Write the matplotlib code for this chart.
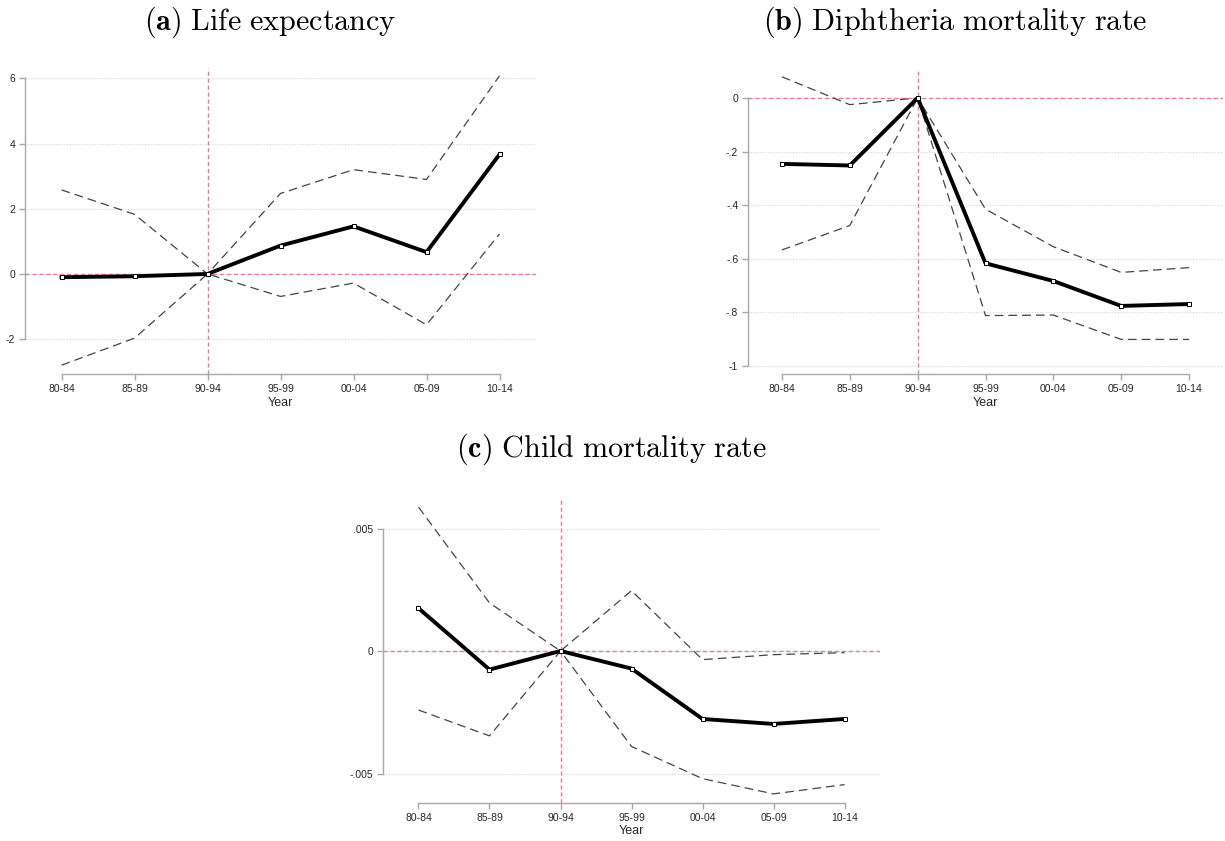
import matplotlib
matplotlib.use("Agg")
import matplotlib.pyplot as plt

plt.rcParams["mathtext.fontset"] = "cm"
plt.rcParams["font.family"] = ["Liberation Sans", "DejaVu Sans"]

# Period categories (x axis)
periods = ["80-84", "85-89", "90-94", "95-99", "00-04", "05-09", "10-14"]
ref_period = 2  # 90-94 is the reference period

# (a) Life expectancy
life_est = [-0.10, -0.07, 0.0, 0.87, 1.46, 0.67, 3.67]
life_hi = [2.58, 1.83, 0.0, 2.47, 3.20, 2.90, 6.08]
life_lo = [-2.80, -1.97, 0.0, -0.69, -0.28, -1.56, 1.23]
life_ticks = [-2, 0, 2, 4, 6]
life_ticklabels = ["-2", "0", "2", "4", "6"]

# (b) Diphtheria mortality rate
diph_est = [-0.246, -0.252, 0.0, -0.617, -0.683, -0.776, -0.769]
diph_hi = [0.079, -0.025, 0.0, -0.415, -0.555, -0.651, -0.633]
diph_lo = [-0.567, -0.476, 0.0, -0.812, -0.810, -0.901, -0.901]
diph_ticks = [-1.0, -0.8, -0.6, -0.4, -0.2, 0.0]
diph_ticklabels = ["-1", "-.8", "-.6", "-.4", "-.2", "0"]

# (c) Child mortality rate
child_est = [0.001746, -0.000758, 0.0, -0.000717, -0.002774, -0.002977, -0.002774]
child_hi = [0.005873, 0.001962, 0.0, 0.002463, -0.000352, -0.000149, -0.000068]
child_lo = [-0.002409, -0.003464, 0.0, -0.003897, -0.005210, -0.005832, -0.005453]
child_ticks = [-0.005, 0.0, 0.005]
child_ticklabels = ["-.005", "0", ".005"]

titles = [r"$\mathbf{(a)}\ \mathrm{Life\ expectancy}$",
          r"$\mathbf{(b)}\ \mathrm{Diphtheria\ mortality\ rate}$",
          r"$\mathbf{(c)}\ \mathrm{Child\ mortality\ rate}$"]

SPINE = "#a8a8a8"
REF = "#e87aa2"
GRID = "#d4d4d4"
TXT = "#262626"

fig = plt.figure(figsize=(12.25, 8.41), dpi=100)

panels = [
    # axes rect, ylim, data, ticks, labels, title position
    ([25 / 1225, 1 - 374 / 841, 511 / 1225, 306 / 841], (-3.07, 6.32),
     (life_est, life_hi, life_lo), life_ticks, life_ticklabels, (270, 22), titles[0]),
    ([748 / 1225, 1 - 374 / 841, 475 / 1225, 305 / 841], (-1.030, 0.108),
     (diph_est, diph_hi, diph_lo), diph_ticks, diph_ticklabels, (955, 22), titles[1]),
    ([383 / 1225, 1 - 803 / 841, 497 / 1225, 305 / 841], (-0.006204, 0.006245),
     (child_est, child_hi, child_lo), child_ticks, child_ticklabels, (612, 449), titles[2]),
]

x = list(range(len(periods)))

for rect, ylim, (est, hi, lo), ticks, ticklabels, tpos, title in panels:
    ax = fig.add_axes(rect)
    ax.set_xlim(-0.5, 6.5)
    ax.set_ylim(*ylim)

    # horizontal dotted grid at the labelled values
    for t in ticks:
        ax.axhline(t, color=GRID, lw=0.8, ls=(0, (1, 1.5)), zorder=1)

    # reference lines
    ax.axhline(0, color=REF, lw=1.0, ls=(0, (3, 2)), zorder=2)
    ax.axvline(ref_period, color=REF, lw=1.0, ls=(0, (3, 2)), zorder=2)

    # confidence bounds
    ax.plot(x, hi, color="#444444", lw=0.9, ls=(0, (7, 4)), zorder=3)
    ax.plot(x, lo, color="#444444", lw=0.9, ls=(0, (7, 4)), zorder=3)

    # point estimates
    ax.plot(x, est, color="black", lw=2.8, marker="s", ms=3.4,
            mfc="white", mec="black", mew=0.7, zorder=4)

    for s in ("top", "right"):
        ax.spines[s].set_visible(False)
    ax.spines["left"].set_color(SPINE)
    ax.spines["bottom"].set_color(SPINE)
    ax.spines["left"].set_linewidth(1.0)
    ax.spines["bottom"].set_linewidth(1.0)
    ax.spines["left"].set_bounds(min(ticks), max(ticks))
    ax.spines["bottom"].set_bounds(0, len(periods) - 1)

    ax.set_yticks(ticks)
    ax.set_yticklabels(ticklabels)
    ax.set_xticks(x)
    ax.set_xticklabels(periods)
    ax.tick_params(axis="both", colors=SPINE, labelcolor=TXT, labelsize=7.5,
                   length=4, width=1.0, pad=3)
    ax.set_xlabel("Year", fontsize=9, color=TXT, labelpad=2)

    fig.text(tpos[0] / 1225, 1 - tpos[1] / 841, title, ha="center", va="center",
             fontsize=21.7, color="black")

fig.savefig("out.png", dpi=100, facecolor="white")
